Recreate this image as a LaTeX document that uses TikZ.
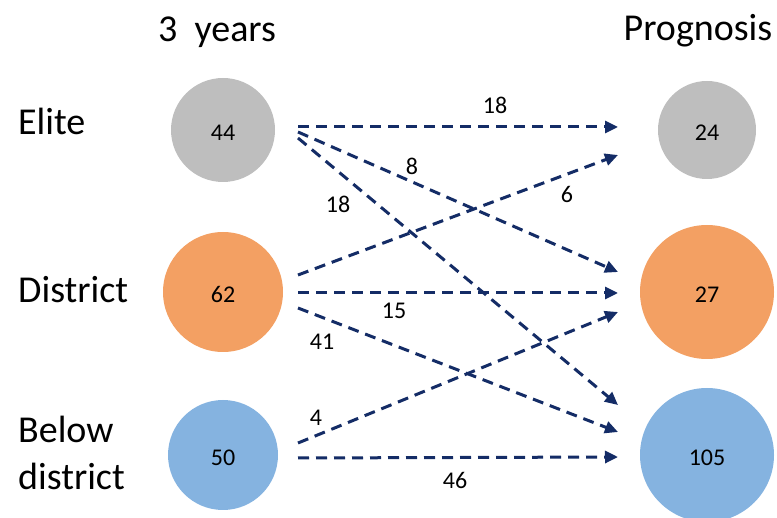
\documentclass[tikz,border=0pt]{standalone}
\usepackage{fontspec}
\setmainfont{Carlito}
\usetikzlibrary{arrows.meta,positioning}
\definecolor{elitegray}{HTML}{BEBEBE}
\definecolor{distorange}{HTML}{F3A063}
\definecolor{belowblue}{HTML}{85B3E0}
\definecolor{flownavy}{HTML}{142C66}
\begin{document}
\begin{tikzpicture}[x=1pt,y=-1pt,
  level/.style={circle,inner sep=0pt,text height=21pt,text depth=0pt,
    font=\fontsize{24}{29}\selectfont},
  rowlabel/.style={anchor=base west,inner sep=0pt,font=\fontsize{38}{47}\selectfont},
  heading/.style={anchor=base,inner sep=0pt,font=\fontsize{38}{46}\selectfont},
  count/.style={inner sep=0pt,font=\fontsize{24}{29}\selectfont},
  flow/.style={draw=flownavy,line width=3pt,dash pattern=on 11pt off 7pt,
    -{Triangle[length=13pt,width=12pt]}}]
\useasboundingbox (0,0) rectangle (777,518);
% Headings
\node[heading] (hnow) at (217,42) {3\ \ years};
\node[heading] (hprog) at (698,41) {Prognosis};
% Row labels
\node[rowlabel] (lelite) at (18,135) {Elite};
\node[rowlabel] (ldist) at (18,303) {District};
\node[rowlabel] (lbelow) at (18,443) {Below};
\node[rowlabel] (lbelow2) at (18,490) {district};
% After 3 years
\node[level,fill=elitegray,minimum size=104pt] (nowe) at (223,130) {44};
\node[level,fill=distorange,minimum size=120pt] (nowd) at (223,292) {62};
\node[level,fill=belowblue,minimum size=110pt] (nowb) at (223,455) {50};
% Prognosis
\node[level,fill=elitegray,minimum size=98pt] (proge) at (707,130) {24};
\node[level,fill=distorange,minimum size=134pt] (progd) at (707,292) {27};
\node[level,fill=belowblue,minimum size=134pt] (progb) at (707,455) {105};
% Arrow ports
\coordinate (e1) at (298,127);
\coordinate (e2) at (298,132);
\coordinate (e3) at (298,138);
\coordinate (d1) at (298,275);
\coordinate (d2) at (298,293);
\coordinate (d3) at (298,308);
\coordinate (b1) at (298,443);
\coordinate (b2) at (298,458);
\coordinate (pe1) at (618,127);
\coordinate (pe2) at (618,155);
\coordinate (pd1) at (618,272);
\coordinate (pd2) at (618,293);
\coordinate (pd3) at (618,312);
\coordinate (pb1) at (618,405);
\coordinate (pb2) at (618,432);
\coordinate (pb3) at (618,457);
% Flows
\draw[flow] (e1) -- (pe1);
\draw[flow] (e2) -- (pd1);
\draw[flow] (e3) -- (pb1);
\draw[flow] (d1) -- (pe2);
\draw[flow] (d2) -- (pd2);
\draw[flow] (d3) -- (pb2);
\draw[flow] (b1) -- (pd3);
\draw[flow] (b2) -- (pb3);
% Flow counts
\node[count] (cee) at (495,105) {18};
\node[count] (ced) at (412,166) {8};
\node[count] (ceb) at (338,204) {18};
\node[count] (cde) at (567,194) {6};
\node[count] (cdd) at (394,311) {15};
\node[count] (cdb) at (322,342) {41};
\node[count] (cbd) at (316,418) {4};
\node[count] (cbb) at (455,480) {46};
\end{tikzpicture}
\end{document}
